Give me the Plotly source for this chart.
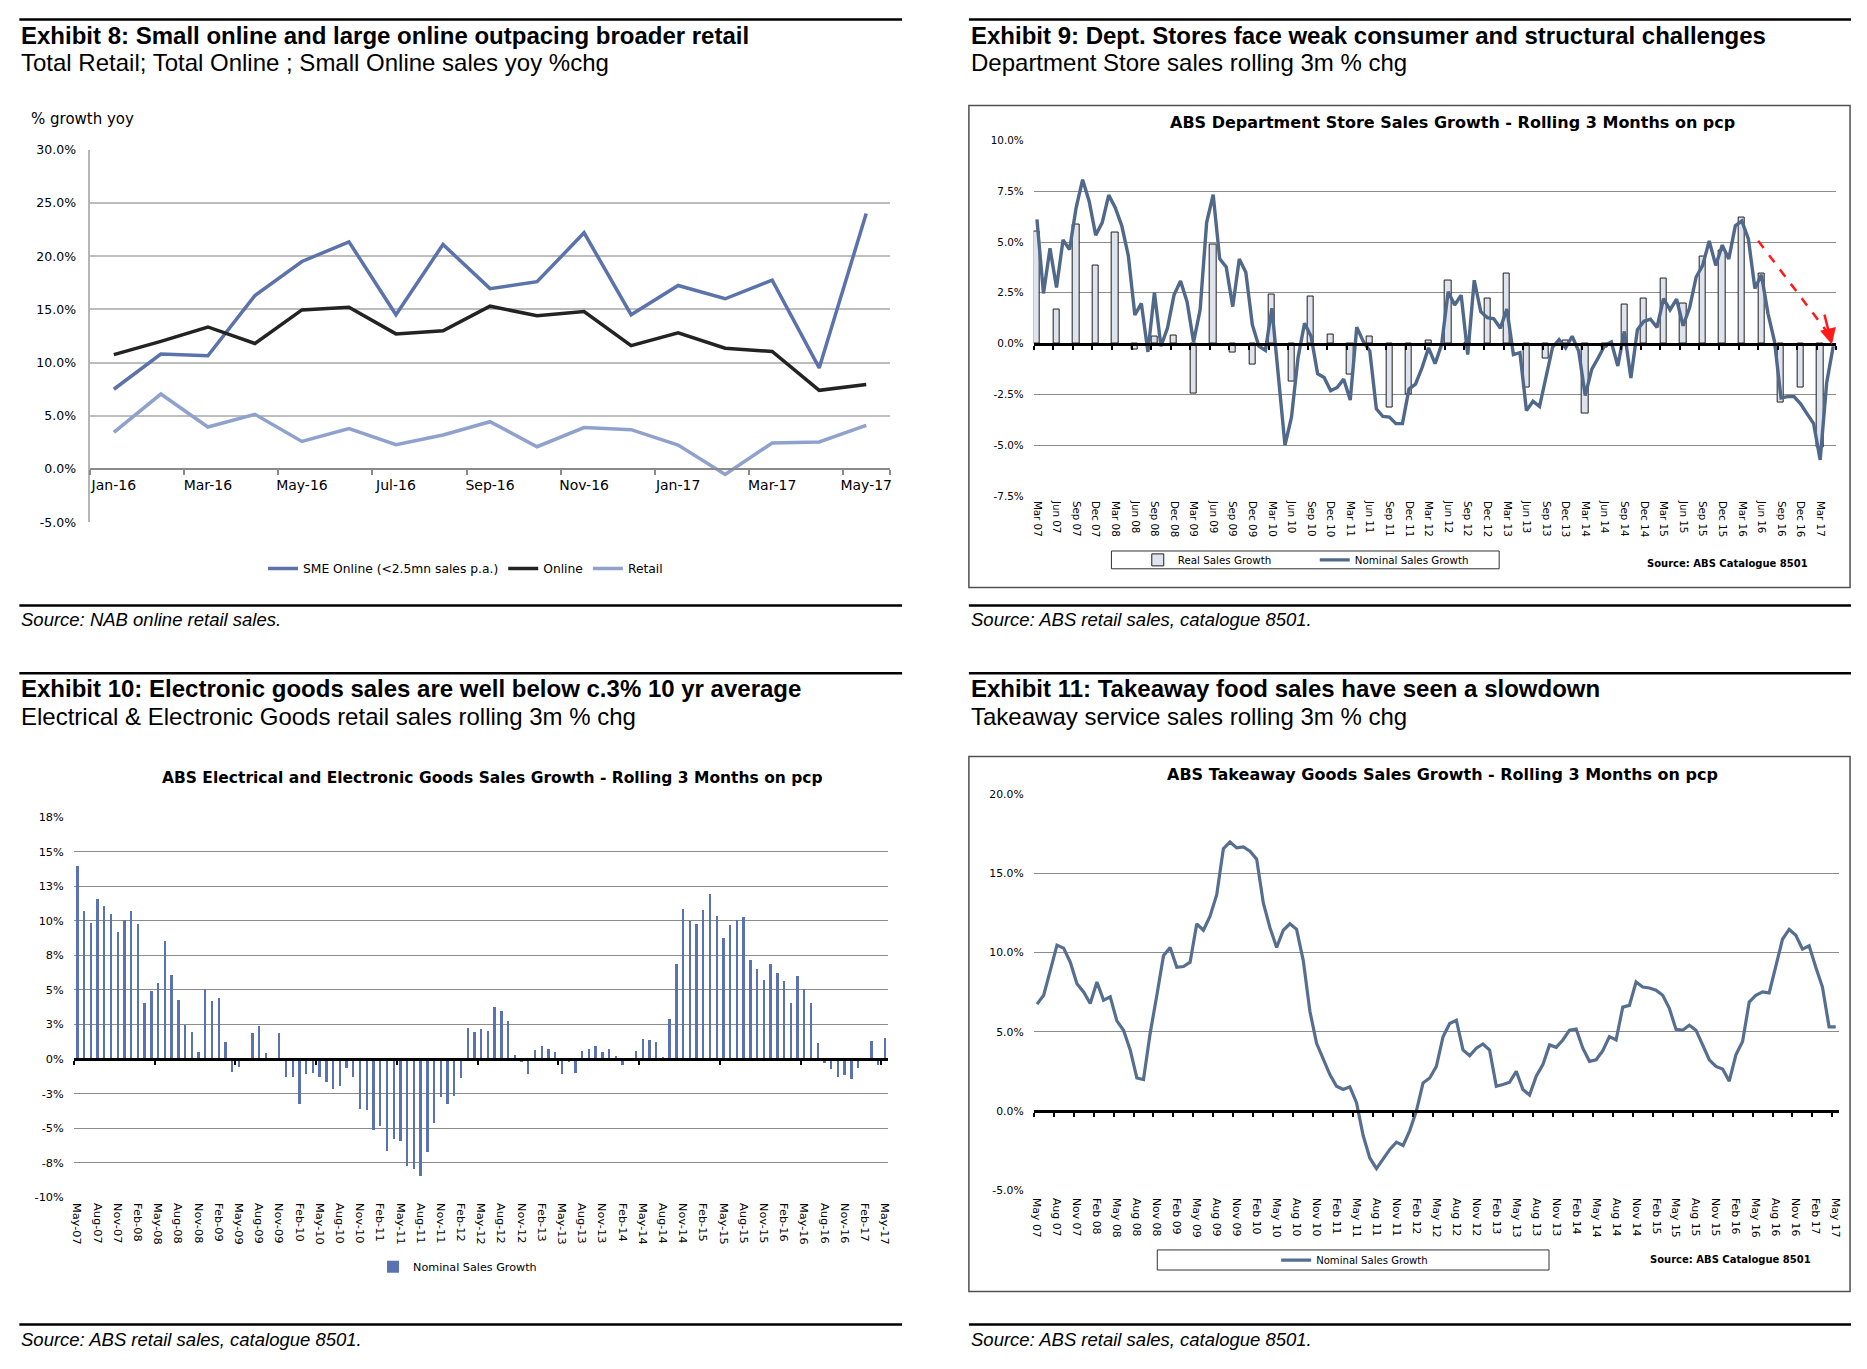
import pandas as pd
import plotly.graph_objects as go

W, H = 1867, 1369


def fx(px):
    return px / W


def fy(py):
    return 1 - py / H


TITLE_FONT = "Liberation Sans, Arial, sans-serif"
CHART_FONT = "DejaVu Sans, Verdana, sans-serif"

# ---------------- Exhibit 8 data ----------------
e8_months = ["Jan-16", "Feb-16", "Mar-16", "Apr-16", "May-16", "Jun-16", "Jul-16", "Aug-16", "Sep-16",
             "Oct-16", "Nov-16", "Dec-16", "Jan-17", "Feb-17", "Mar-17", "Apr-17", "May-17"]
e8_sme = [7.5, 10.8, 10.65, 16.3, 19.5, 21.35, 14.5, 21.1, 16.95, 17.6, 22.2, 14.5, 17.25, 16.0, 17.75, 9.5, 24.0]
e8_online = [10.75, 12.0, 13.35, 11.8, 14.95, 15.2, 12.7, 13.0, 15.3, 14.4, 14.8, 11.6, 12.8, 11.35, 11.05, 7.4, 7.95]
e8_retail = [3.45, 7.05, 3.95, 5.15, 2.6, 3.8, 2.3, 3.2, 4.45, 2.1, 3.9, 3.7, 2.25, -0.5, 2.45, 2.55, 4.1]

# ---------------- Exhibit 9 data (Mar 07 .. May 17, monthly; real = quarterly) ----------------
e9_start = "2007-03-01"
e9_nominal = [6.12, 2.47, 4.69, 2.76, 5.11, 4.63, 6.69, 8.07, 7.01, 5.34, 5.96, 7.31, 6.69, 5.8, 4.33, 1.41,
              1.98, -0.41, 2.52, -0.13, 0.76, 2.39, 3.08, 2.06, 0.08, 1.66, 5.96, 7.34, 4.17, 3.77, 1.82, 4.17,
              3.52, 0.93, -0.13, -0.34, 1.74, -1.8, -5.0, -3.62, -0.70, 1.0, 0.36, -1.48, -1.67, -2.32, -2.16,
              -1.75, -2.78, 0.81, 0.11, -0.37, -3.21, -3.59, -3.62, -3.94, -3.94, -2.24, -2.0, -1.19, -0.21,
              -0.99, -0.05, 2.55, 1.9, 2.39, -0.54, 3.12, 1.57, 1.28, 1.22, 0.76, 1.70, -0.54, -0.45, -3.30,
              -2.84, -3.10, -1.67, -0.18, 0.19, -0.21, 0.36, -0.37, -2.56, -1.27, -0.70, -0.08, 0.08, -1.10,
              0.60, -1.70, 0.68, 1.1, 1.2, 0.8, 2.22, 1.66, 2.19, 0.88, 1.77, 3.28, 3.85, 5.06, 3.85, 4.85,
              4.17, 5.80, 6.04, 5.15, 2.71, 3.39, 1.49, 0.11, -2.68, -2.61, -2.61, -2.97, -3.46, -3.94, -5.73,
              -1.92, -0.13]
e9_real = [5.52, 1.69, 5.88, 3.83, 5.45, -0.29, 0.37, 0.42, -2.48, 4.89, -0.45, -1.02, 2.42, -1.87, 2.31,
           0.47, -1.51, 0.36, -3.17, -2.52, 0.15, 3.10, 0.05, 2.21, 3.44, -2.16, -0.75, 0.16, -3.46, -0.21,
           1.90, 2.22, 3.20, 1.95, 4.30, 4.6, 6.20, 3.44, -2.89, -2.16, -5.11]

# ---------------- Exhibit 10 data (May-07 .. May-17) ----------------
e10_start = "2007-05-01"
e10_nominal = [13.95, 10.7, 9.86, 11.55, 11.07, 10.45, 9.19, 10.07, 10.7, 9.74, 4.05, 4.88, 5.48, 8.52, 6.07,
               4.22, 2.45, 1.9, 0.5, 5.05, 4.2, 4.36, 1.24, -0.96, -0.57, -0.17, 1.84, 2.34, 0.41, -0.1, 1.84,
               -1.36, -1.36, -3.3, -1.12, -1.05, -1.32, -1.72, -2.2, -1.96, -0.67, -1.36, -3.64, -3.68, -5.19,
               -4.88, -6.67, -5.84, -5.98, -7.75, -8.01, -8.49, -6.75, -4.67, -2.8, -3.3, -2.73, -1.41, 2.2,
               1.96, 2.13, 1.99, 3.71, 3.44, 2.75, 0.26, -0.22, -1.08, 0.6, 0.91, 0.72, 0.48, -1.08, -0.22,
               -1.0, 0.55, 0.72, 0.91, 0.48, 0.72, 0.19, -0.43, 0.05, 0.55, 1.39, 1.32, 1.2, 0.1, 2.87, 6.83,
               10.83, 10.0, 9.76, 10.79, 11.9, 10.36, 8.76, 9.71, 10.07, 10.29, 7.14, 6.52, 5.67, 6.86, 6.19,
               5.6, 4.05, 6.0, 5.05, 4.05, 1.1, -0.29, -0.72, -1.32, -1.15, -1.48, -0.65, -0.1, 1.27, -0.48,
               1.51]

# ---------------- Exhibit 11 data (May 07 .. May 17) ----------------
e11_start = "2007-05-01"
e11_nominal = [6.75, 7.31, 8.88, 10.48, 10.29, 9.40, 8.04, 7.52, 6.79, 8.15, 7.0, 7.21, 5.69, 5.1, 3.85, 2.08,
               1.98, 4.9, 7.3, 9.81, 10.33, 9.08, 9.13, 9.4, 11.83, 11.42, 12.31, 13.67, 16.58, 17.0, 16.63,
               16.69, 16.42, 15.92, 13.15, 11.58, 10.33, 11.42, 11.83, 11.48, 9.5, 6.3, 4.27, 3.23, 2.29, 1.56,
               1.35, 1.52, 0.52, -1.56, -2.98, -3.65, -3.02, -2.44, -1.98, -2.19, -1.25, 0.0, 1.77, 2.08, 2.81,
               4.69, 5.52, 5.73, 3.85, 3.48, 3.96, 4.23, 3.85, 1.56, 1.67, 1.81, 2.5, 1.35, 1.0, 2.19, 2.92,
               4.17, 4.02, 4.48, 5.1, 5.17, 3.96, 3.13, 3.23, 3.81, 4.69, 4.48, 6.56, 6.67, 8.15, 7.83, 7.77,
               7.63, 7.31, 6.48, 5.15, 5.1, 5.42, 5.1, 4.17, 3.23, 2.81, 2.65, 1.88, 3.54, 4.38, 6.88, 7.31,
               7.52, 7.46, 9.19, 10.85, 11.48, 11.1, 10.23, 10.44, 9.08, 7.83, 5.31, 5.31]

# ---------------- derived categories ----------------
e9_labels = list(pd.date_range(e9_start, periods=len(e9_nominal), freq="MS").strftime("%b %y"))
e10_labels = list(pd.date_range(e10_start, periods=len(e10_nominal), freq="MS").strftime("%b-%y"))
e11_labels = list(pd.date_range(e11_start, periods=len(e11_nominal), freq="MS").strftime("%b %y"))
idx9 = list(range(len(e9_nominal)))
idx9_q = idx9[::3][:len(e9_real)]
idx10 = list(range(len(e10_nominal)))
idx11 = list(range(len(e11_nominal)))


def excel_pct(v):
    s = -1 if v < 0 else 1
    return f"{s * int(abs(v) + 0.5)}%"


# ---------------- geometry (pixels) ----------------
P8 = dict(x0=87.6, x1=889.6, ytop=143.3, ybot=520, rmin=-5, rmax=30)
P9 = dict(x0=1034, x1=1839.4, ytop=134, ybot=493.3, rmin=-7.5, rmax=10)
P10 = dict(x0=71, x1=888, ytop=818.3, ybot=1202.3, rmin=-10, rmax=17.5)
P11 = dict(x0=1034, x1=1842, ytop=795.3, ybot=1195, rmin=-5, rmax=20)


def zero_pos(p):
    b, t = fy(p["ybot"]), fy(p["ytop"])
    return b + (t - b) * (0 - p["rmin"]) / (p["rmax"] - p["rmin"])


fig = go.Figure()

# Exhibit 8 traces
fig.add_trace(go.Scatter(x=e8_months, y=e8_sme, mode="lines", name="SME Online (<2.5mn sales p.a.)",
                         line=dict(color="#5b72ab", width=3.5), xaxis="x", yaxis="y", legend="legend"))
fig.add_trace(go.Scatter(x=e8_months, y=e8_online, mode="lines", name="Online",
                         line=dict(color="#232323", width=3.5), xaxis="x", yaxis="y", legend="legend"))
fig.add_trace(go.Scatter(x=e8_months, y=e8_retail, mode="lines", name="Retail",
                         line=dict(color="#8fa1cc", width=3.5), xaxis="x", yaxis="y", legend="legend"))

# Exhibit 9 traces
fig.add_trace(go.Bar(x=idx9_q, y=e9_real, width=0.95, name="Real Sales Growth",
                     marker=dict(color="#dfe3ee", line=dict(color="#1e1e1e", width=1)),
                     xaxis="x2", yaxis="y2", legend="legend2"))
fig.add_trace(go.Scatter(x=idx9, y=e9_nominal, mode="lines", name="Nominal Sales Growth",
                         line=dict(color="#50698b", width=3.4), xaxis="x2", yaxis="y2", legend="legend2"))
fig.add_trace(go.Scatter(x=idx9[:1], y=[None], mode="lines", showlegend=False, hoverinfo="skip",
                         xaxis="x3", yaxis="y2"))

# Exhibit 10 traces
fig.add_trace(go.Bar(x=idx10, y=e10_nominal, width=0.35, name="Nominal Sales Growth",
                     marker=dict(color="#5b72b2", line=dict(width=0)),
                     xaxis="x4", yaxis="y3", legend="legend3"))
fig.add_trace(go.Scatter(x=idx10[:1], y=[None], mode="lines", showlegend=False, hoverinfo="skip",
                         xaxis="x5", yaxis="y3"))

# Exhibit 11 traces
fig.add_trace(go.Scatter(x=idx11, y=e11_nominal, mode="lines", name="Nominal Sales Growth",
                         line=dict(color="#566f91", width=3.2), xaxis="x6", yaxis="y4", legend="legend4"))
fig.add_trace(go.Scatter(x=idx11[:1], y=[None], mode="lines", showlegend=False, hoverinfo="skip",
                         xaxis="x7", yaxis="y4"))


def zero_axis(p, n, step):
    return dict(domain=[fx(p["x0"]), fx(p["x1"])], anchor="free", position=zero_pos(p),
                range=[-0.5, n - 0.5], showline=True, linecolor="black", linewidth=3,
                ticks="outside", ticklen=4, tickwidth=1.5, tickcolor="black",
                tickmode="array", tickvals=[i - 0.5 for i in range(0, n + 1, step)],
                showticklabels=False, showgrid=False, zeroline=False, fixedrange=True)


def label_axis(base, yname, n, idx, labels, size, standoff):
    return dict(overlaying=base, anchor=yname, side="bottom", range=[-0.5, n - 0.5],
                tickmode="array", tickvals=idx[::3], ticktext=labels[::3], tickangle=90,
                ticks="", showline=False, showgrid=False, zeroline=False, ticklabelstandoff=standoff,
                tickfont=dict(family=CHART_FONT, size=size, color="black"), fixedrange=True)


def y_axis(p, anchor, vals, text, size, standoff, grid="#8c8c8c", gw=1):
    return dict(domain=[fy(p["ybot"]), fy(p["ytop"])], anchor=anchor, range=[p["rmin"], p["rmax"]],
                tickmode="array", tickvals=vals, ticktext=text, ticks="", showline=False,
                gridcolor=grid, gridwidth=gw, zeroline=False, ticklabelstandoff=standoff,
                tickfont=dict(family=CHART_FONT, size=size, color="black"), fixedrange=True)


y9_vals = [-7.5, -5, -2.5, 0, 2.5, 5, 7.5, 10]
y10_vals = [-10, -7.5, -5, -2.5, 0, 2.5, 5, 7.5, 10, 12.5, 15, 17.5]
y11_vals = [-5, 0, 5, 10, 15, 20]
y8_vals = [-5, 0, 5, 10, 15, 20, 25, 30]

layout = dict(
    autosize=True, margin=dict(l=0, r=0, t=0, b=0),
    paper_bgcolor="white", plot_bgcolor="white",
    font=dict(family=CHART_FONT, color="black"),
    bargap=0,
    xaxis=dict(domain=[fx(P8["x0"]), fx(P8["x1"])], anchor="free", position=zero_pos(P8),
               type="category", range=[-0.5, len(e8_months) - 0.5],
               showline=True, linecolor="#8a8a8a", linewidth=2, ticks="outside", ticklen=5,
               tickcolor="#8a8a8a", tickwidth=1.5, tickson="boundaries", tickangle=0,
               tickmode="array", tickvals=e8_months[::2], ticklabelstandoff=3,
               tickfont=dict(family=CHART_FONT, size=14, color="black"),
               showgrid=False, zeroline=False, fixedrange=True),
    yaxis=dict(domain=[fy(P8["ybot"]), fy(P8["ytop"])], anchor="x", range=[P8["rmin"], P8["rmax"]],
               tickmode="array", tickvals=y8_vals, ticktext=[f"{v:.1f}%" for v in y8_vals],
               ticks="", showline=True, linecolor="#b5b5b5", linewidth=1.5, ticklabelstandoff=10,
               gridcolor="#bdbdbd", gridwidth=1.5, zeroline=False,
               tickfont=dict(family=CHART_FONT, size=12.5, color="black"), fixedrange=True),
    xaxis2=zero_axis(P9, len(e9_nominal), 3),
    xaxis3=label_axis("x2", "y2", len(e9_nominal), idx9, e9_labels, 10.3, 4),
    yaxis2=y_axis(P9, "x2", y9_vals, [f"{v:.1f}%" for v in y9_vals], 10.4, 9),
    xaxis4=zero_axis(P10, len(e10_nominal), 12),
    xaxis5=label_axis("x4", "y3", len(e10_nominal), idx10, e10_labels, 11.3, 5),
    yaxis3=y_axis(P10, "x4", y10_vals, [excel_pct(v) for v in y10_vals], 11.3, 9),
    xaxis6=zero_axis(P11, len(e11_nominal), 3),
    xaxis7=label_axis("x6", "y4", len(e11_nominal), idx11, e11_labels, 10.9, 7),
    yaxis4=y_axis(P11, "x6", y11_vals, [f"{v:.1f}%" for v in y11_vals], 10.8, 9),
    legend=dict(x=fx(464), y=fy(566.7), xanchor="center", yanchor="middle", orientation="h",
                font=dict(family=CHART_FONT, size=12.3), bgcolor="rgba(0,0,0,0)", itemwidth=30),
    legend2=dict(x=fx(1316), y=fy(558), xanchor="center", yanchor="middle", orientation="h",
                 font=dict(family=CHART_FONT, size=10.3), bgcolor="rgba(0,0,0,0)", itemwidth=30,
                 entrywidth=132),
    legend3=dict(x=fx(456), y=fy(1272.7), xanchor="center", yanchor="middle", orientation="h",
                 font=dict(family=CHART_FONT, size=11.2), bgcolor="rgba(0,0,0,0)", itemwidth=30),
    legend4=dict(x=fx(1356), y=fy(1266), xanchor="center", yanchor="middle", orientation="h",
                 font=dict(family=CHART_FONT, size=10.1), bgcolor="rgba(0,0,0,0)", itemwidth=30),
)

annotations = []


def text(x, y, s, size, family=TITLE_FONT, xanchor="left", bold=False, italic=False, xref="paper", yref="paper"):
    if bold:
        s = f"<b>{s}</b>"
    if italic:
        s = f"<i>{s}</i>"
    annotations.append(dict(x=x, y=y, xref=xref, yref=yref, text=s, showarrow=False,
                            xanchor=xanchor, yanchor="middle",
                            font=dict(family=family, size=size, color="black")))


# Exhibit headers
text(fx(16.4), fy(28), "Exhibit 8: Small online and large online outpacing broader retail", 24, bold=True)
text(fx(16.4), fy(55), "Total Retail; Total Online ; Small Online sales yoy %chg", 24)
text(fx(969), fy(28), "Exhibit 9: Dept. Stores face weak consumer and structural challenges", 24, bold=True)
text(fx(969), fy(55), "Department Store sales rolling 3m % chg", 24)
text(fx(16.4), fy(688.3), "Exhibit 10: Electronic goods sales are well below c.3% 10 yr average", 24, bold=True)
text(fx(16.4), fy(716), "Electrical &amp; Electronic Goods retail sales rolling 3m % chg", 24)
text(fx(969), fy(688.3), "Exhibit 11: Takeaway food sales have seen a slowdown", 24, bold=True)
text(fx(969), fy(716), "Takeaway service sales rolling 3m % chg", 24)
# Sources
text(fx(16.4), fy(618), "Source: NAB online retail sales.", 18.5, italic=True)
text(fx(969), fy(618), "Source: ABS retail sales, catalogue 8501.", 18.5, italic=True)
text(fx(16.4), fy(1346), "Source: ABS retail sales, catalogue 8501.", 18.5, italic=True)
text(fx(969), fy(1346), "Source: ABS retail sales, catalogue 8501.", 18.5, italic=True)
# In-chart texts
text(fx(26), fy(112.7), "% growth yoy", 15, family=CHART_FONT)
text(fx(1454), fy(115.8), "ABS Department Store Sales Growth - Rolling 3 Months on pcp", 16,
     family=CHART_FONT, xanchor="center", bold=True)
text(fx(491), fy(778.8), "ABS Electrical and Electronic Goods Sales Growth - Rolling 3 Months on pcp", 15.5,
     family=CHART_FONT, xanchor="center", bold=True)
text(fx(1444.6), fy(775.2), "ABS Takeaway Goods Sales Growth - Rolling 3 Months on pcp", 16,
     family=CHART_FONT, xanchor="center", bold=True)
text(fx(1730), fy(561.7), "Source: ABS Catalogue 8501", 10, family=CHART_FONT, xanchor="center", bold=True)
text(fx(1733.5), fy(1265), "Source: ABS Catalogue 8501", 10, family=CHART_FONT, xanchor="center", bold=True)

# red arrow head (Exhibit 9)
annotations.append(dict(x=121.8, y=-0.05, xref="x2", yref="y2", ax=120.6, ay=1.5, axref="x2", ayref="y2",
                        showarrow=True, arrowhead=2, arrowsize=1.3, arrowwidth=2.5, arrowcolor="#ff1a1a",
                        text="", standoff=0))

shapes = []


def hline(x0, x1, y, w=2.5):
    shapes.append(dict(type="line", xref="paper", yref="paper", x0=fx(x0), x1=fx(x1), y0=fy(y), y1=fy(y),
                       line=dict(color="black", width=w)))


def rect(x0, x1, y0, y1, color="#505050", w=1.5):
    shapes.append(dict(type="rect", xref="paper", yref="paper", x0=fx(x0), x1=fx(x1), y0=fy(y1), y1=fy(y0),
                       line=dict(color=color, width=w), fillcolor="rgba(0,0,0,0)"))


hline(16.4, 902, 11.7)
hline(969, 1854, 11.7)
hline(16.4, 902, 604)
hline(969, 1854, 604)
hline(16.4, 902, 672.7)
hline(969, 1854, 672.7)
hline(16.4, 902, 1331)
hline(969, 1854, 1331)
rect(969, 1853, 98.7, 586)
rect(969, 1853, 756.7, 1297.7)
rect(1112, 1501, 549, 567, color="#333333", w=1)
rect(1158, 1551, 1255.7, 1276, color="#333333", w=1)
shapes.append(dict(type="line", xref="x2", yref="y2", x0=110.5, y0=5.06, x1=120.9, y1=0.65,
                   line=dict(color="#ff1a1a", width=2.5, dash="dash")))

layout["annotations"] = annotations
layout["shapes"] = shapes
fig.update_layout(**layout)

# The plot div is pinned to the page origin so the 1867x1369 figure fills the window exactly.
fig.write_html("out.html", config={"displayModeBar": False},
               default_width=f"{W}px; position:absolute; left:0px; top:0px",
               default_height=f"{H}px",
               post_script="document.body.style.margin='0';document.body.style.overflow='hidden';")
